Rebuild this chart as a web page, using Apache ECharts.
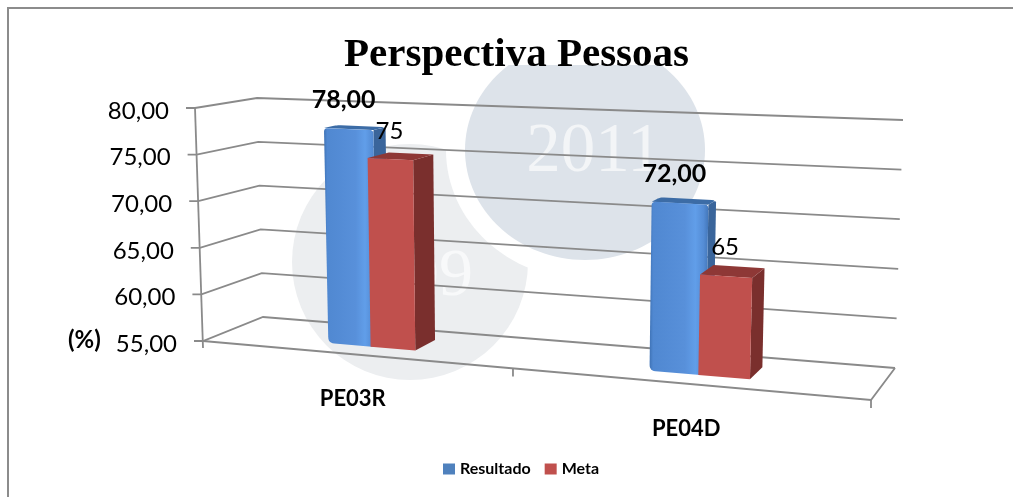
<!DOCTYPE html>
<html><head><meta charset="utf-8">
<style>html,body{margin:0;padding:0;background:#fff}#c{width:1013px;height:497px}</style>
<script src="https://cdn.jsdelivr.net/npm/echarts@6/dist/echarts.min.js"></script>
</head><body><div id="c"></div>
<script>
const categories = ['PE03R', 'PE04D'];
const resultado = [78, 72];
const meta = [75, 65];
const yTicks = [55, 60, 65, 70, 75, 80];

const CORNERS = {fb0:[203,341],ft0:[195,108],bb0:[263,317],bt0:[257,98],fb1:[871,400],ft1:[880,136],bb1:[895,368],bt1:[903,120]};
const lerp=(a,b,t)=>[a[0]+(b[0]-a[0])*t,a[1]+(b[1]-a[1])*t];
const persp=u=>u/(u+1.155*(1-u));
function box(u,v,d){
  const c=CORNERS,w=persp(u);
  const bot=lerp(lerp(c.fb0,c.fb1,w),lerp(c.bb0,c.bb1,w),d);
  const top=lerp(lerp(c.ft0,c.ft1,w),lerp(c.bt0,c.bt1,w),d);
  return lerp(bot,top,v);
}
function mapper(params,api){
  const r=params.coordSys,band=api.size([1,0])[0];
  const vOf=val=>(r.y+r.height-api.coord([0,val])[1])/r.height;
  const uOf=(i,off)=>(api.coord([i,55])[0]+off*band-r.x)/r.width;
  return {vOf,uOf};
}
function rounded(pts,rs){
  const out=[],n=pts.length;
  for(let i=0;i<n;i++){
    const p=pts[i],a=pts[(i+n-1)%n],b=pts[(i+1)%n],R=rs[i];
    const la=Math.hypot(a[0]-p[0],a[1]-p[1]),lb=Math.hypot(b[0]-p[0],b[1]-p[1]);
    const s=lerp(p,a,R/la),e=lerp(p,b,R/lb);
    for(let k=0;k<=6;k++){const t=k/6;out.push(lerp(lerp(s,p,t),lerp(p,e,t),t));}
  }
  return out;
}
const poly=(points,fill)=>({type:'polygon',shape:{points},style:{fill}});
const line=(points)=>({type:'polyline',shape:{points},style:{fill:'none',stroke:'#8a8a8a',lineWidth:1.8}});
const BAR_W=0.14, D0=0.3, SHIFT=0.008;

function renderGrid(params,api){
  const val=api.value(1),m=mapper(params,api),v=m.vOf(val);
  const fl=box(0,v,0),bl=box(0,v,1),br=box(1,v,1);
  const kids=[line([[fl[0]-9,fl[1]],fl,bl,br])];
  if(params.dataIndex===0){
    const vTop=m.vOf(yTicks[yTicks.length-1]);
    const fr=box(1,0,0);
    kids.push(line([fl,fr,br]));
    kids.push(line([box(0,vTop,0),[fl[0],fl[1]+7]]));
    kids.push(line([box(.5,0,0),[box(.5,0,0)[0],box(.5,0,0)[1]+8]]));
    kids.push(line([fr,[fr[0],fr[1]+8]]));
  }
  return {type:'group',children:kids};
}
function renderBlue(params,api){
  const i=api.value(0),val=api.value(1),m=mapper(params,api),v=m.vOf(val);
  const u0=m.uOf(i,-BAR_W+SHIFT),u1=m.uOf(i,SHIFT+0.02),D1=0.53;
  const a=box(u0,v,D0),b=box(u1,v,D0),c=box(u1,0,D0),d=box(u0,0,D0);
  const a2=box(u0,v,D1),b2=box(u1,v,D1),c2=box(u1,0,D1);
  const grad=new echarts.graphic.LinearGradient(0,0,1,0,[
    {offset:0,color:'#3f73b6'},{offset:.06,color:'#5088d1'},{offset:.6,color:'#5890da'},
    {offset:.78,color:'#619ee9'},{offset:.92,color:'#548cd5'},{offset:1,color:'#4377ba'}]);
  const cx=(a[0]+box(m.uOf(i,SHIFT),v,D0)[0])/2-2;
  return {type:'group',children:[
    poly(rounded([b,b2,c2,c],[1,3,3,1]),'#3a659b'),
    poly(rounded([a,a2,b2,b],[1,4,4,1]),'#3c6ca6'),
    poly(rounded([a,b,c,d],[4,4,5,6]),grad),
    {type:'text',style:{text:val.toFixed(2).replace('.',','),x:cx,y:a[1]-28,fill:'#000',font:'bold 25px Lato',align:'center',verticalAlign:'middle',textAlign:'center',textVerticalAlign:'middle'}}
  ]};
}
function renderRed(params,api){
  const i=api.value(0),val=api.value(1),m=mapper(params,api),v=m.vOf(val);
  const u0=m.uOf(i,SHIFT),u1=m.uOf(i,SHIFT+0.145),D1=0.7;
  const a=box(u0,v,D0),b=box(u1,v,D0),c=box(u1,0,D0),d=box(u0,0,D0);
  const a2=box(u0,v,D1),b2=box(u1,v,D1),c2=box(u1,0,D1);
  const cx=(a[0]+b[0])/2-1;
  return {type:'group',children:[
    poly([b,b2,c2,c],'#7a2f2d'),
    poly([a,a2,b2,b],'#8e3836'),
    poly([a,b,c,d],'#c0504d'),
    {type:'text',style:{text:String(val),x:cx,y:a[1]-27,fill:'#000',font:'24px Lato',align:'center',verticalAlign:'middle',textAlign:'center',textVerticalAlign:'middle'}}
  ]};
}
const pads=[0,1.6,3.2,4.8,6.4,8];
const rich={};pads.forEach((p,i)=>{rich['p'+i]={padding:[6,p,0,0],fontFamily:'Lato',fontSize:24,color:'#000'};});
const border='#8c8c8c';
const chart=echarts.init(document.getElementById('c'),null,{renderer:'canvas'});
chart.setOption({
  animation:false,backgroundColor:'#fff',
  title:{text:'Perspectiva Pessoas',left:339,top:30,textStyle:{fontFamily:'Liberation Serif',fontWeight:'bold',fontSize:41,color:'#000'}},
  legend:{left:438,top:456,itemWidth:12,itemHeight:11,itemGap:14,icon:'rect',data:['Resultado','Meta'],textStyle:{fontFamily:'Lato',fontWeight:'bold',fontSize:16,color:'#000'}},
  grid:{left:186,top:108,width:667,height:233,containLabel:false},
  xAxis:{type:'category',data:categories,axisLine:{show:false},axisTick:{show:false},splitLine:{show:false},
    axisLabel:{interval:0,margin:47,formatter:(s,i)=>i===0?`{a|${s}}`:`{b|${s}}`,
      rich:{a:{fontFamily:'Lato',fontWeight:'bold',fontSize:22,color:'#000'},
            b:{fontFamily:'Lato',fontWeight:'bold',fontSize:22,color:'#000',padding:[30,0,0,0]}}}},
  yAxis:{type:'value',min:55,max:80,interval:5,axisLine:{show:false},axisTick:{show:false},splitLine:{show:false},
    axisLabel:{margin:9,rich,formatter:v=>`{p${(v-55)/5}|${v.toFixed(2).replace('.',',')}}`}},
  graphic:[
    {type:'circle',shape:{cx:410,cy:262,r:118},style:{fill:'#eceef0'},silent:true},
    {type:'text',style:{text:'09',x:439,y:277,fill:'#f8f9fa',font:'68px "Liberation Serif"',textAlign:'center',textVerticalAlign:'middle',align:'center',verticalAlign:'middle'},silent:true},
    {type:'ellipse',shape:{cx:585,cy:150,rx:139,ry:129},style:{fill:'#ffffff'},silent:true},
    {type:'ellipse',shape:{cx:585,cy:150,rx:120,ry:110},style:{fill:'#dde3ea'},silent:true},
    {type:'rect',shape:{x:340,y:20,width:360,height:45},style:{fill:'#ffffff'},silent:true},
    {type:'text',style:{text:'2011',x:594,y:153,fill:'#f3f5f7',font:'69px "Liberation Serif"',textAlign:'center',textVerticalAlign:'middle',align:'center',verticalAlign:'middle'},silent:true},
    {type:'text',style:{text:'(%)',x:68,y:340,fill:'#000',font:'bold 24px Lato',textAlign:'left',textVerticalAlign:'middle',align:'left',verticalAlign:'middle'},silent:true},
    {type:'rect',shape:{x:7,y:7,width:1006,height:2},style:{fill:border},silent:true},
    {type:'rect',shape:{x:7,y:7,width:2,height:490},style:{fill:border},silent:true}
  ],
  series:[
    {type:'custom',name:'grade',renderItem:renderGrid,data:yTicks.map(t=>[0,t]),encode:{x:0,y:1},silent:true,z:1},
    {type:'custom',name:'Resultado',renderItem:renderBlue,data:resultado.map((v,i)=>[i,v]),encode:{x:0,y:1},itemStyle:{color:'#4f81bd'},z:2},
    {type:'custom',name:'Meta',renderItem:renderRed,data:meta.map((v,i)=>[i,v]),encode:{x:0,y:1},itemStyle:{color:'#c0504d'},z:3}
  ]
});
</script></body></html>
